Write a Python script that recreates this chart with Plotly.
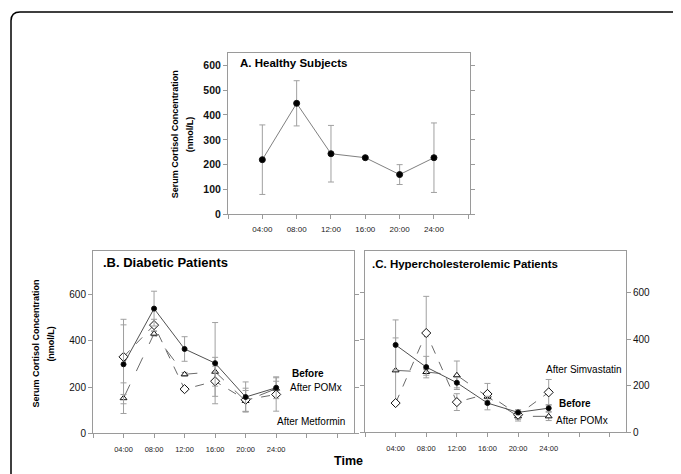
import plotly.graph_objects as go

# ---------------- data ----------------
hours = [4, 8, 12, 16, 20, 24]
time_labels = ["04:00", "08:00", "12:00", "16:00", "20:00", "24:00"]
axis_ticks = [0, 4, 8, 12, 16, 20, 24, 28, 32]

# A. Healthy subjects
healthy = [220, 447, 244, 228, 160, 228]
healthy_err = [140, 91, 114, 4, 40, 140]

# B. Diabetic patients
diab_before = [298, 538, 364, 303, 157, 197]
diab_before_err = [170, 75, 53, 175, 65, 47]
diab_pomx = [152, 430, 255, 266, 140, 193]
diab_pomx_err = [66, 10, 8, 62, 45, 32]
diab_metformin = [330, 467, 191, 225, 145, 168]
diab_metformin_err = [162, 25, 8, 65, 50, 72]

# C. Hypercholesterolemic patients
hyper_before = [375, 280, 213, 126, 86, 104]
hyper_before_err = [107, 46, 22, 29, 11, 15]
hyper_pomx = [266, 259, 245, 153, 69, 69]
hyper_pomx_err = [139, 14, 61, 15, 20, 18]
hyper_simva = [126, 426, 130, 165, 76, 172]
hyper_simva_err = [5, 157, 36, 45, 20, 55]

PAGE_MARGIN = 8  # default body margin of the html page
W, H = 681 - PAGE_MARGIN, 474 - PAGE_MARGIN
FONT = "Liberation Sans, Arial, sans-serif"
AX = "#9a9a9a"
ERR = "#a0a0a0"


def fx(p):
    return (p - PAGE_MARGIN) / W


def fy(p):
    return 1 - (p - PAGE_MARGIN) / H


fig = go.Figure()


def err(vals):
    return dict(type="data", array=vals, visible=True, color=ERR, thickness=1, width=3)


def add_series(xa, ya, y, e, symbol, fill, dash, lcolor, size, name):
    fig.add_trace(go.Scatter(
        x=hours, y=y, xaxis=xa, yaxis=ya, mode="lines+markers", name=name,
        line=dict(color=lcolor, width=1, dash=dash),
        marker=dict(symbol=symbol, size=size, color=fill, line=dict(color="#111", width=1)),
        error_y=err(e), showlegend=False,
    ))


# Panel A
add_series("x", "y", healthy, healthy_err, "circle", "black", "solid", "#808080", 6, "Healthy")
# Panel B
add_series("x2", "y2", diab_pomx, diab_pomx_err, "triangle-up", "white", "longdash", "#6a6a6a", 6, "After POMx")
add_series("x2", "y2", diab_metformin, diab_metformin_err, "diamond", "white", "dash", "#6a6a6a", 7, "After Metformin")
add_series("x2", "y2", diab_before, diab_before_err, "circle", "black", "solid", "#505050", 5, "Before")
# Panel C
add_series("x3", "y3", hyper_pomx, hyper_pomx_err, "triangle-up", "white", "longdash", "#6a6a6a", 6, "After POMx")
add_series("x3", "y3", hyper_simva, hyper_simva_err, "diamond", "white", "dash", "#6a6a6a", 7, "After Simvastatin")
add_series("x3", "y3", hyper_before, hyper_before_err, "circle", "black", "solid", "#505050", 5, "Before")

ticktext = [""] + time_labels + ["", ""]


def xaxis(domain, rng, fsize, standoff):
    return dict(domain=domain, range=rng, tickvals=axis_ticks, ticktext=ticktext,
                ticks="outside", ticklen=4, tickcolor=AX, showline=True, linecolor=AX,
                linewidth=1, mirror=True, showgrid=False, zeroline=False,
                tickfont=dict(family=FONT, size=fsize, color="#222"), ticklabelstandoff=standoff)


def yaxis(domain, rng, tickvals, bold, side="left", anchor=None):
    d = dict(domain=domain, range=rng, tickvals=tickvals, ticks="outside", ticklen=4,
             tickcolor=AX, showline=True, linecolor=AX, linewidth=1, mirror="ticks",
             showgrid=False, zeroline=False, side=side,
             tickfont=dict(family=FONT, size=10.5 if bold else 10, color="#111",
                           weight="bold" if bold else "normal"))
    if anchor:
        d["anchor"] = anchor
    return d


layout = dict(
    width=W, height=H, margin=dict(l=0, r=0, t=0, b=0),
    paper_bgcolor="white", plot_bgcolor="white", showlegend=False,
    xaxis=dict(**xaxis([fx(228), fx(470)], [0, 28.2], 8, 3), anchor="y"),
    yaxis=yaxis([fy(217), fy(54)], [0, 648], [0, 100, 200, 300, 400, 500, 600], True, anchor="x"),
    xaxis2=dict(**xaxis([fx(93), fx(354)], [0, 34.2], 7.5, 5), anchor="y2"),
    yaxis2=yaxis([fy(439), fy(254)], [0, 787], [0, 200, 400, 600], False, anchor="x2"),
    xaxis3=dict(**xaxis([fx(365), fx(626)], [0, 34.1], 7.5, 5), anchor="y3"),
    yaxis3=yaxis([fy(438), fy(254)], [0, 778], [0, 200, 400, 600], False, side="right", anchor="x3"),
)
fig.update_layout(**layout)

ann = []


def paper_text(x, y, text, size, bold=True, angle=0, xanchor="center"):
    ann.append(dict(x=fx(x), y=fy(y), xref="paper", yref="paper", text=text, showarrow=False,
                    textangle=angle, xanchor=xanchor, yanchor="middle",
                    font=dict(family=FONT, size=size, color="black",
                              weight="bold" if bold else "normal")))


def data_text(xr, yr, x, y, text, bold):
    ann.append(dict(x=x, y=y, xref=xr, yref=yr, text=text, showarrow=False,
                    xanchor="left", yanchor="middle",
                    font=dict(family=FONT, size=10, color="black",
                              weight="bold" if bold else "normal")))


# Panel titles
paper_text(238, 64, "A. Healthy Subjects", 11.5, xanchor="left")
paper_text(101, 266, ".B. Diabetic Patients", 13, xanchor="left")
paper_text(370, 267, ".C. Hypercholesterolemic Patients", 11.5, xanchor="left")

# Y-axis titles
paper_text(175, 136, "Serum Cortisol Concentration", 9, angle=-90)
paper_text(190, 136, "(nmol/L)", 9, angle=-90)
paper_text(36, 348, "Serum Cortisol Concentration", 9, angle=-90)
paper_text(51, 348, "(nmol/L)", 9, angle=-90)

# X title
paper_text(348, 467, "Time", 12.5)

# Series labels
data_text("x2", "y2", 25.8, 260, "Before", True)
data_text("x2", "y2", 25.5, 196, "After POMx", False)
data_text("x2", "y2", 23.8, 51, "After Metformin", False)
data_text("x3", "y3", 23.4, 269, "After Simvastatin", False)
data_text("x3", "y3", 25.1, 123, "Before", True)
data_text("x3", "y3", 24.7, 51, "After POMx", False)

fig.update_layout(annotations=ann)

# Outer rounded frame (left/top edges visible)
x0 = fx(11)
yt = fy(12)
rx, ry = 9 / W, 9 / H
fig.add_shape(type="path", xref="paper", yref="paper",
              path=f"M {x0},-0.2 L {x0},{yt - ry} Q {x0},{yt} {x0 + rx},{yt} L 1.2,{yt}",
              line=dict(color="black", width=1.5))

fig.write_html("out.html")
